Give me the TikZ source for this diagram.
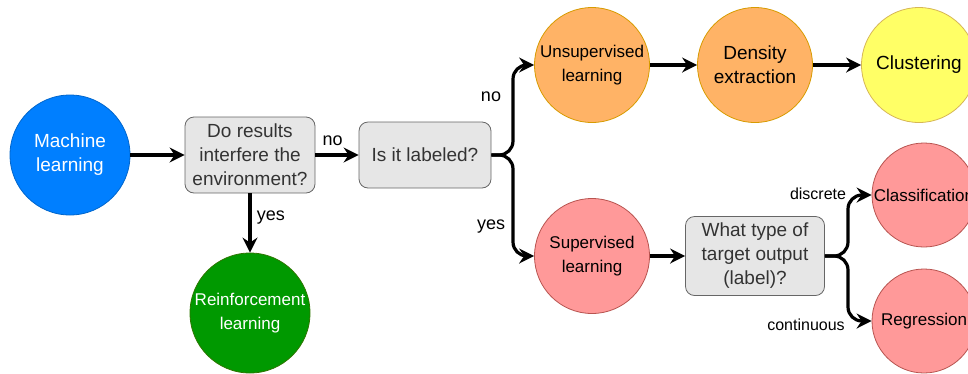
\documentclass[tikz,border=0pt]{standalone}
\usepackage{fontspec}
\setmainfont{Liberation Sans}
\usetikzlibrary{arrows.meta}
\definecolor{mlblue}{HTML}{007FFF}
\definecolor{mlbluedk}{HTML}{0066CC}
\definecolor{rlgreen}{HTML}{009900}
\definecolor{rlgreendk}{HTML}{2D7600}
\definecolor{boxfill}{HTML}{E6E6E6}
\definecolor{boxline}{HTML}{666666}
\definecolor{boxtext}{HTML}{333333}
\definecolor{orfill}{HTML}{FFB366}
\definecolor{orline}{HTML}{D79B00}
\definecolor{yefill}{HTML}{FFFF66}
\definecolor{yeline}{HTML}{D6B656}
\definecolor{rdfill}{HTML}{FF9999}
\definecolor{rdline}{HTML}{B85450}
\tikzset{
  bigtxt/.style={font=\fontsize{19}{24}\selectfont},
  midtxt/.style={font=\fontsize{17}{24}\selectfont},
  lbltxt/.style={font=\fontsize{18}{20}\selectfont},
  smltxt/.style={font=\fontsize{16}{18}\selectfont},
  circ/.style={circle, draw, line width=0.8pt, inner sep=0pt, align=center},
  decbox/.style={rounded corners=9pt, draw=boxline, fill=boxfill, text=boxtext, line width=0.8pt, align=center, inner sep=0pt, bigtxt},
  conn/.style={line width=3.2pt, -{Stealth[length=15pt, width=15pt, inset=5pt]}},
  curv/.style={conn, rounded corners=14pt},
}
\begin{document}
\begin{tikzpicture}[x=1pt, y=-1pt]
\useasboundingbox (0,0) rectangle (968,373);
\clip (0,0) rectangle (968,373);
% nodes
\node[circ, minimum size=120pt, fill=mlblue, draw=mlbluedk, text=white, bigtxt] (ml) at (70,155) {Machine\\learning};
\node[decbox, minimum width=130pt, minimum height=76pt] (q1) at (250,155) {Do results\\interfere the\\environment?};
\node[decbox, minimum width=132pt, minimum height=66pt] (q2) at (425,155) {Is it labeled?};
\node[circ, minimum size=120pt, fill=rlgreen, draw=rlgreendk, text=white, midtxt] (rl) at (250,313) {Reinforcement\\learning};
\node[circ, minimum size=115pt, fill=orfill, draw=orline, midtxt] (un) at (592,65) {Unsupervised\\learning};
\node[circ, minimum size=115pt, fill=orfill, draw=orline, bigtxt] (de) at (755,65) {Density\\extraction};
\node[circ, minimum size=115pt, fill=yefill, draw=yeline, bigtxt] (cl) at (919,65) {Clustering};
\node[circ, minimum size=115pt, fill=rdfill, draw=rdline, midtxt] (su) at (592,256) {Supervised\\learning};
\node[decbox, minimum width=139pt, minimum height=79pt] (q3) at (755,256) {What type of\\target output\\(label)?};
\node[circ, minimum size=104pt, fill=rdfill, draw=rdline, midtxt] (ca) at (924,195) {Classification};
\node[circ, minimum size=104pt, fill=rdfill, draw=rdline, midtxt] (re) at (924,321) {Regression};
% connectors
\draw[conn] (ml) -- (q1);
\draw[conn] (q1) -- node[lbltxt, above=4pt, pos=0.4] (lno1) {no} (q2);
\draw[conn] (q1) -- node[lbltxt, right=2pt, pos=0.4] (lyes1) {yes} (rl);
\coordinate (b1) at (513,155);
\draw[curv] (q2.east) -- (b1) -- (b1 |- un.west) -- (un.west);
\draw[curv] (q2.east) -- (b1) -- (b1 |- su.west) -- (su.west);
\node[lbltxt] (lno2) at (491,97) {no};
\node[lbltxt] (lyes2) at (491,227) {yes};
\coordinate (b2) at (848,256);
\draw[conn] (un) -- (de);
\draw[conn] (de) -- (cl);
\draw[conn] (su) -- (q3);
\draw[curv] (q3.east) -- (b2) -- (b2 |- ca.west) -- (ca.west);
\draw[curv] (q3.east) -- (b2) -- (b2 |- re.west) -- (re.west);
\node[smltxt] (ldis) at (818,194) {discrete};
\node[smltxt] (lcon) at (806,325) {continuous};
\end{tikzpicture}
\end{document}
